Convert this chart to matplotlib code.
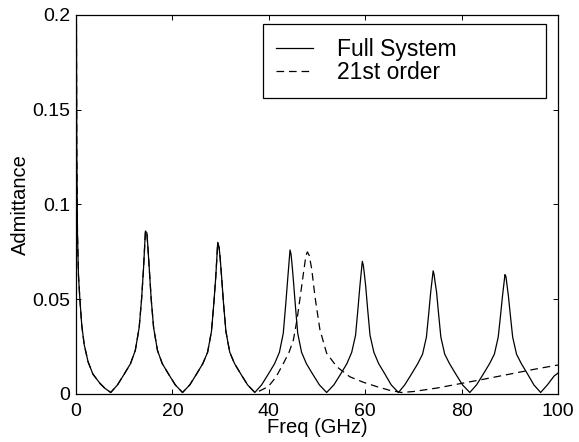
import numpy as np
import matplotlib
matplotlib.use("Agg")
import matplotlib.pyplot as plt

# Full system admittance (GHz, S)
freq_full = [
    0.0, 0.08, 0.15, 0.3, 0.5, 0.8, 1.2, 1.7, 2.5, 3.5, 5.0, 6.0, 7.2,
    8.6, 10.0, 11.3, 12.3, 13.1, 13.6, 14.0, 14.4, 14.7, 14.9, 15.2, 15.6, 16.1, 16.9, 17.9, 19.2, 20.6, 22.1,
    23.6, 25.0, 26.3, 27.3, 28.1, 28.6, 29.0, 29.4, 29.7, 29.9, 30.2, 30.6, 31.1, 31.9, 32.9, 34.2, 35.6, 37.1,
    38.5, 39.9, 41.2, 42.2, 43.0, 43.5, 43.9, 44.4, 44.6, 44.8, 45.1, 45.5, 46.0, 46.8, 47.8, 49.1, 50.5, 52.0,
    53.5, 54.9, 56.2, 57.2, 58.0, 58.5, 58.9, 59.4, 59.6, 59.8, 60.1, 60.5, 61.0, 61.8, 62.8, 64.1, 65.4, 66.9,
    68.2, 69.6, 70.9, 71.9, 72.7, 73.2, 73.6, 74.1, 74.3, 74.5, 74.8, 75.2, 75.7, 76.5, 77.5, 78.8, 80.2, 81.7,
    83.1, 84.5, 85.8, 86.8, 87.6, 88.1, 88.5, 89.0, 89.2, 89.4, 89.7, 90.1, 90.6, 91.4, 92.4, 93.7, 95.0, 96.4,
    97.8, 99.2, 100.0,
]
adm_full = [
    0.25, 0.20, 0.13, 0.085, 0.063, 0.050, 0.036, 0.026, 0.017, 0.0105, 0.0055, 0.003, 0.0008,
    0.0048, 0.0105, 0.016, 0.023, 0.035, 0.050, 0.066, 0.086, 0.085, 0.078, 0.066, 0.050, 0.035, 0.023, 0.016, 0.0105, 0.0048, 0.0008,
    0.0048, 0.0105, 0.016, 0.022, 0.033, 0.048, 0.062, 0.080, 0.077, 0.072, 0.062, 0.048, 0.033, 0.022, 0.016, 0.0105, 0.0048, 0.0008,
    0.0048, 0.0105, 0.016, 0.022, 0.032, 0.047, 0.060, 0.076, 0.074, 0.069, 0.060, 0.047, 0.032, 0.022, 0.016, 0.0105, 0.0048, 0.0008,
    0.0048, 0.0105, 0.016, 0.022, 0.031, 0.045, 0.057, 0.070, 0.068, 0.064, 0.057, 0.045, 0.031, 0.022, 0.016, 0.0105, 0.0048, 0.0008,
    0.0048, 0.0105, 0.016, 0.021, 0.030, 0.043, 0.054, 0.065, 0.063, 0.059, 0.054, 0.043, 0.030, 0.021, 0.016, 0.0105, 0.0048, 0.0008,
    0.0048, 0.0105, 0.016, 0.021, 0.030, 0.042, 0.052, 0.063, 0.062, 0.058, 0.052, 0.042, 0.030, 0.021, 0.016, 0.0105, 0.0048, 0.0008,
    0.0048, 0.0095, 0.011,
]

# 21st order model: follows the full system up to ~37 GHz, then diverges
split_freq = 37.1
freq_21_tail = [
    38.0, 39.9, 41.5, 43.0, 44.2, 45.1, 45.9, 46.5, 47.2, 47.7, 48.0, 48.4, 48.9, 49.6, 50.6,
    52.0, 54.1, 56.8, 59.6, 62.4, 65.0, 67.5, 70.0, 75.0, 80.0, 85.0, 90.0, 95.0, 100.0,
]
adm_21_tail = [
    0.0015, 0.0039, 0.009, 0.016, 0.022, 0.0285, 0.040, 0.051, 0.064, 0.073, 0.075, 0.073, 0.066, 0.051, 0.034,
    0.0215, 0.0144, 0.0091, 0.0062, 0.0039, 0.002, 0.0008, 0.0013, 0.0032, 0.0056, 0.008, 0.0105, 0.013, 0.0153,
]

x_ticks = [0, 20, 40, 60, 80, 100]
y_ticks = [0, 0.05, 0.1, 0.15, 0.2]
y_tick_labels = ["0", "0.05", "0.1", "0.15", "0.2"]

plt.rcParams["font.family"] = ["Liberation Sans", "DejaVu Sans"]
plt.rcParams["lines.scale_dashes"] = False

ff = np.array(freq_full)
af = np.array(adm_full)
head = ff <= split_freq
freq_21 = np.concatenate([ff[head], freq_21_tail])
adm_21 = np.concatenate([af[head], adm_21_tail])

fig = plt.figure(figsize=(5.79, 4.42), dpi=100)
ax = fig.add_axes([0.1313, 0.1086, 0.8324, 0.8575])

ax.plot(ff, af, color="black", lw=0.9, label="Full System")
ax.plot(freq_21, adm_21, color="black", lw=0.9, dashes=(5.5, 3.5), label="21st order")

ax.set_xlim(0, 100)
ax.set_ylim(0, 0.2)
ax.set_xticks(x_ticks)
ax.set_yticks(y_ticks)
ax.set_yticklabels(y_tick_labels)
ax.tick_params(direction="in", top=True, right=True, length=3.5, width=0.7,
               labelsize=14)
ax.tick_params(axis="x", pad=6.5)
ax.tick_params(axis="y", pad=4)
for s in ax.spines.values():
    s.set_linewidth(0.9)

ax.set_xlabel("Freq (GHz)", fontsize=14.5, labelpad=-1.5)
ax.set_ylabel("Admittance", fontsize=14.5, labelpad=2)

leg = ax.legend(loc="upper left", bbox_to_anchor=(0.387, 0.976, 0.588, 0.0),
                mode="expand", fontsize=16.5, handlelength=1.6, handletextpad=1.05,
                labelspacing=0.0, borderpad=0.6, borderaxespad=0.0,
                fancybox=False, framealpha=1, edgecolor="black")
leg.get_frame().set_linewidth(0.9)

fig.savefig("out.png", dpi=100)
